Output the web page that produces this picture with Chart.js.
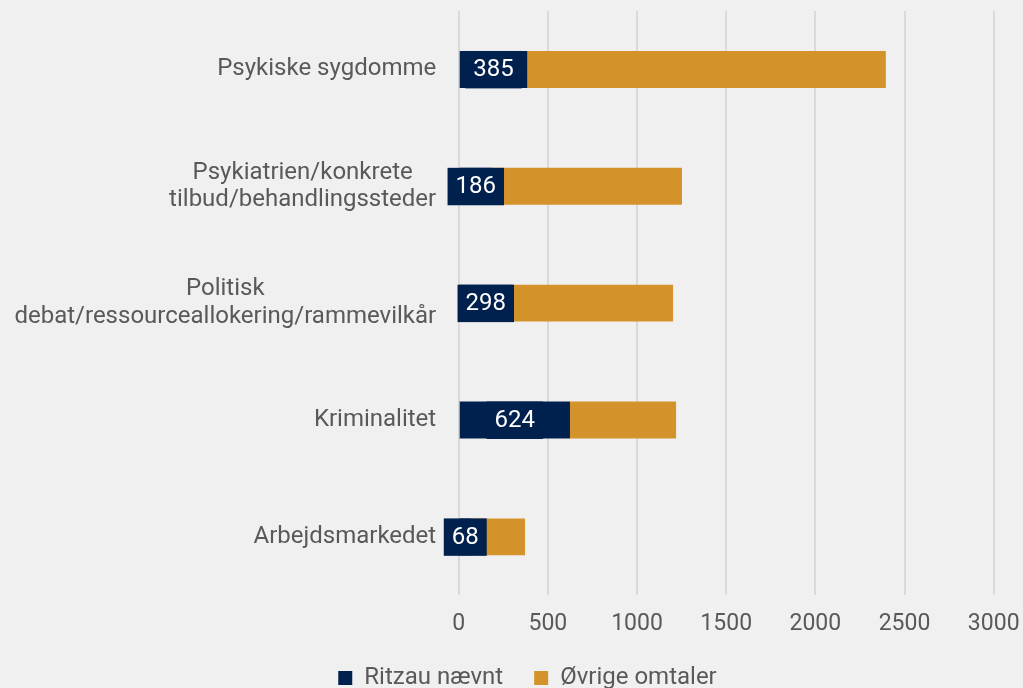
<!DOCTYPE html>
<html>
<head>
<meta charset="utf-8">
<script src="https://cdn.jsdelivr.net/npm/chart.js@4/dist/chart.umd.min.js"></script>
<style>
  html, body { margin: 0; padding: 0; background: #f0f0f0; }
  #wrap { width: 1023px; height: 688px; position: relative; }
</style>
</head>
<body>
<div id="wrap"><canvas id="c" width="1023" height="688"></canvas></div>
<script>
const categories = [
  ['Psykiske sygdomme'],
  ['Psykiatrien/konkrete', 'tilbud/behandlingssteder'],
  ['Politisk', 'debat/ressourceallokering/rammevilkår'],
  ['Kriminalitet'],
  ['Arbejdsmarkedet']
];
const ritzauValues = [385, 186, 298, 624, 68];
const oevrigeValues = [2010, 1066, 904, 595, 304];
const seriesNames = ['Ritzau nævnt', 'Øvrige omtaler'];
const xTickMin = 0, xTickMax = 3000, xTickStep = 500;

const NAVY = '#00204e';
const ORANGE = '#d4922a';
const TEXT = '#595959';
const FONT = 'Roboto';

const bgPlugin = {
  id: 'bg',
  beforeDraw(chart) {
    const ctx = chart.ctx;
    ctx.save();
    ctx.fillStyle = '#f0f0f0';
    ctx.fillRect(0, 0, chart.width, chart.height);
    ctx.restore();
  }
};

const catLabelPlugin = {
  id: 'catLabels',
  afterDraw(chart) {
    const ctx = chart.ctx;
    const yScale = chart.scales.y;
    const right = chart.chartArea.left - 22.5;
    const lh = 27.4;
    ctx.save();
    ctx.font = '24px ' + FONT;
    ctx.fillStyle = TEXT;
    ctx.textAlign = 'center';
    ctx.textBaseline = 'middle';
    categories.forEach((lines, i) => {
      const yc = yScale.getPixelForValue(i);
      const widths = lines.map(l => ctx.measureText(l).width);
      const block = Math.max(...widths);
      const cx = right - block / 2;
      const y0 = yc - (lines.length - 1) * lh / 2;
      lines.forEach((l, j) => ctx.fillText(l, cx, y0 + j * lh));
    });
    ctx.restore();
  }
};

const valueLabelPlugin = {
  id: 'valueLabels',
  afterDatasetsDraw(chart) {
    const meta = chart.getDatasetMeta(0);
    const ctx = chart.ctx;
    ctx.save();
    ctx.font = '24px ' + FONT;
    ctx.textAlign = 'center';
    ctx.textBaseline = 'middle';
    meta.data.forEach((bar, i) => {
      const p = bar.getProps(['x', 'y', 'base', 'height'], true);
      const cx = (p.x + p.base) / 2;
      const text = String(ritzauValues[i]);
      const w = ctx.measureText(text).width + 16;
      ctx.fillStyle = NAVY;
      ctx.fillRect(cx - w / 2, p.y - p.height / 2, w, p.height + 0.5);
      ctx.fillStyle = '#ffffff';
      ctx.fillText(text, cx, p.y + 1);
    });
    ctx.restore();
  }
};

new Chart(document.getElementById('c'), {
  type: 'bar',
  data: {
    labels: categories.map(c => c.join(' ')),
    datasets: [
      { label: seriesNames[0], data: ritzauValues, backgroundColor: NAVY, borderWidth: 0 },
      { label: seriesNames[1], data: oevrigeValues, backgroundColor: ORANGE, borderWidth: 0 }
    ]
  },
  options: {
    indexAxis: 'y',
    responsive: false,
    animation: false,
    devicePixelRatio: 1,
    datasets: { bar: { categoryPercentage: 0.316, barPercentage: 1 } },
    layout: { padding: { left: 32, right: 0, top: 11, bottom: -12 } },
    plugins: {
      legend: {
        position: 'bottom',
        labels: {
          boxWidth: 14, boxHeight: 14, padding: 31,
          color: TEXT,
          font: { family: FONT, size: 24 }
        }
      },
      tooltip: { enabled: false }
    },
    scales: {
      x: {
        stacked: true,
        min: xTickMin, max: xTickMax,
        ticks: {
          stepSize: xTickStep, color: TEXT, font: { family: FONT, size: 23 }, padding: 15, maxRotation: 0,
          callback: (v) => String(v)
        },
        grid: { color: '#d9d9d9', lineWidth: 2, drawTicks: false },
        border: { display: false },
        afterFit(scale) { scale.paddingRight = 29.3; scale.paddingLeft = 0; scale.height = 39.7; }
      },
      y: {
        stacked: true,
        ticks: { display: false },
        grid: { display: false, drawTicks: false },
        border: { display: false },
        afterFit(scale) { scale.width = 426.7; }
      }
    }
  },
  plugins: [bgPlugin, catLabelPlugin, valueLabelPlugin]
});
</script>
</body>
</html>
